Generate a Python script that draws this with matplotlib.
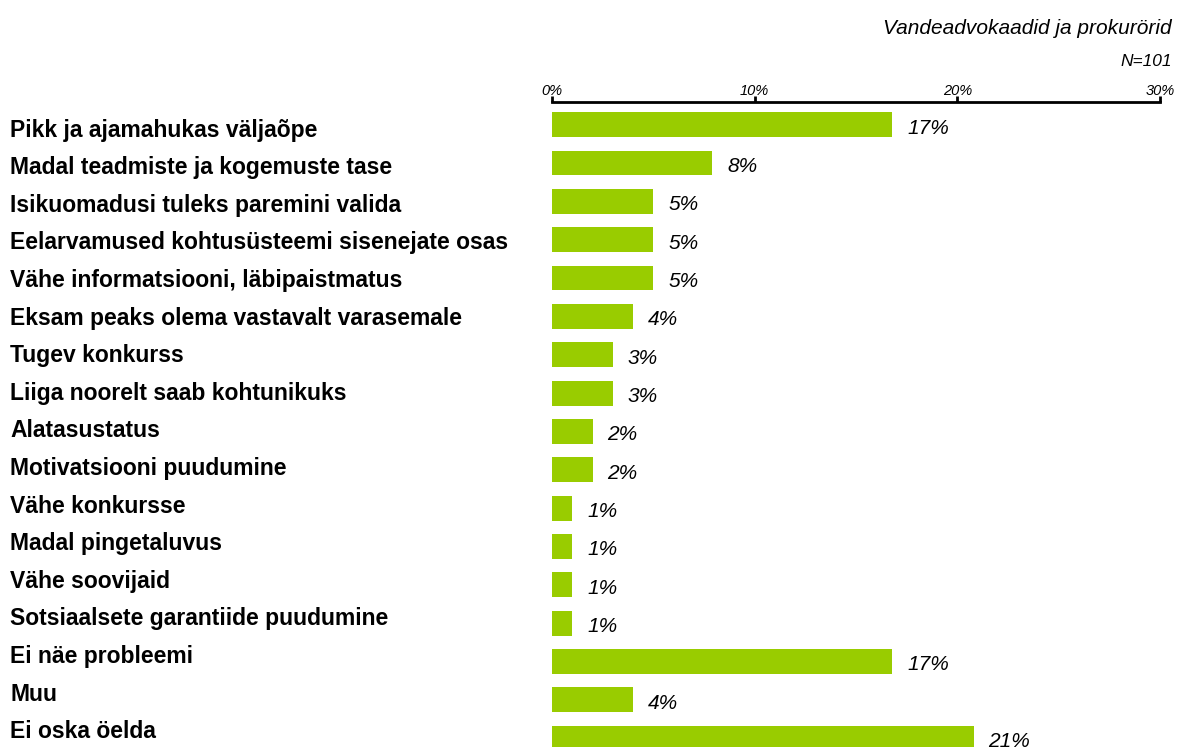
import matplotlib.pyplot as plt

# andmed
categories = ["Pikk ja ajamahukas väljaõpe", "Madal teadmiste ja kogemuste tase",
              "Isikuomadusi tuleks paremini valida", "Eelarvamused kohtusüsteemi sisenejate osas",
              "Vähe informatsiooni, läbipaistmatus", "Eksam peaks olema vastavalt varasemale",
              "Tugev konkurss", "Liiga noorelt saab kohtunikuks", "Alatasustatus",
              "Motivatsiooni puudumine", "Vähe konkursse", "Madal pingetaluvus",
              "Vähe soovijaid", "Sotsiaalsete garantiide puudumine", "Ei näe probleemi",
              "Muu", "Ei oska öelda"]
values = [16.8, 7.9, 5.0, 5.0, 5.0, 4.0, 3.0, 3.0, 2.0, 2.0, 1.0, 1.0, 1.0, 1.0, 16.8, 4.0, 20.8]
labels = ["17%", "8%", "5%", "5%", "5%", "4%", "3%", "3%", "2%", "2%",
          "1%", "1%", "1%", "1%", "17%", "4%", "21%"]
ticks = [0, 10, 20, 30]
tick_labels = ["0%", "10%", "20%", "30%"]

plt.rcParams['font.family'] = ['Liberation Sans', 'DejaVu Sans']

W, H = 1182, 747
fig = plt.figure(figsize=(W / 100, H / 100), dpi=100)
ax = fig.add_axes([552 / W, 0, (1160 - 552) / W, 1 - 102 / H])

y = list(range(len(categories)))
ax.barh(y, values, height=0.65, color="#99CC00")
ax.set_xlim(0, 30)
ax.set_ylim(16.23, -0.59)

for s in ["left", "right", "bottom"]:
    ax.spines[s].set_visible(False)
ax.spines["top"].set_linewidth(2)
ax.xaxis.tick_top()
ax.set_xticks(ticks)
ax.set_xticklabels(tick_labels, fontsize=10.5, fontstyle="italic")
ax.tick_params(axis="x", direction="out", length=4, width=2, pad=-1)
ax.set_yticks([])

# kategooriate sildid: veidi tihedamalt kui ribad (nagu originaalis)
for i, c in enumerate(categories):
    fig.text(10 / W, 1 - (136.7 + 37.6 * i) / H, c, ha="left", va="baseline",
             fontsize=16.5, fontweight="bold")

# 1 px = 0.72 pt
for i in y:
    ax.annotate(labels[i], (values[i], i), xytext=(15 * 0.72, -9 * 0.72),
                textcoords="offset points", ha="left", va="baseline",
                fontsize=15, fontstyle="italic", annotation_clip=False)

fig.text(1172 / W, 1 - 28 / H, "Vandeadvokaadid ja prokurörid", ha="right", va="center",
         fontsize=15, fontstyle="italic")
fig.text(1172 / W, 1 - 62 / H, "N=101", ha="right", va="center",
         fontsize=12.5, fontstyle="italic")

fig.savefig("out.png", dpi=100)
